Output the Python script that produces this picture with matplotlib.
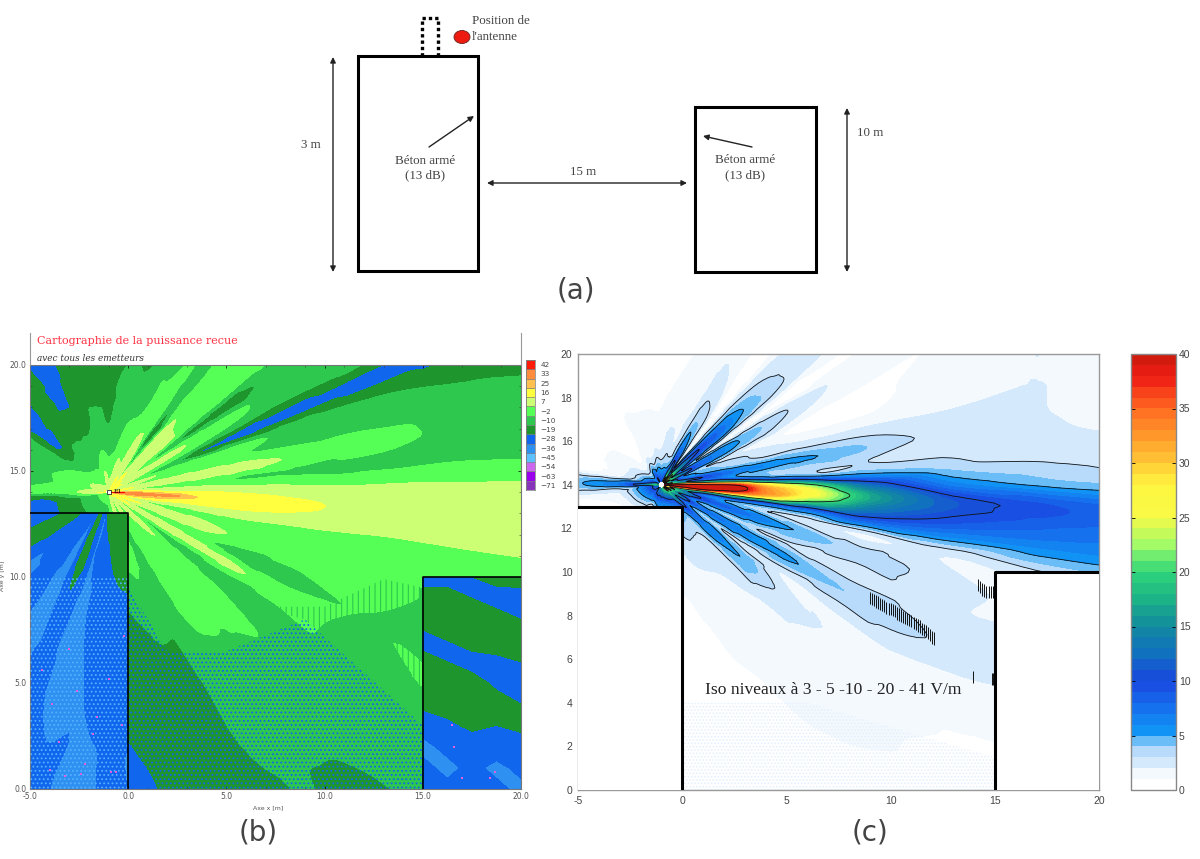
import numpy as np
import matplotlib
matplotlib.use('Agg')
import matplotlib.pyplot as plt
from matplotlib.colors import LinearSegmentedColormap
from matplotlib.patches import Rectangle, Ellipse, Polygon
from matplotlib.tri import Triangulation, UniformTriRefiner, CubicTriInterpolator

plt.rcParams['axes.unicode_minus'] = False
plt.rcParams['hatch.linewidth'] = 0.8

# antenna position, both maps are read in polar form around it
ant_x = -1.0
ant_y = 14.0

angles = [-170, -150, -130, -115, -100, -90, -80, -70, -62, -55, -48, -41, -35, -29, -24, -18, -13, -9, -6, -3,
          0, 3, 6, 10, 14, 18, 22, 26, 30, 34, 38, 42, 46, 51, 55, 60, 65, 72, 80, 90,
          100, 110, 120, 130, 141, 150, 160, 170, 176, 180, 184, 190]
radii = [0.15, 1, 2, 3.5, 5, 7, 10, 14, 19, 27]

# field strength in V/m, panel (c)
field_c = [
    [12, 6, 2, 1, 0.5, 0.5, 0, 0, 0, 0],
    [12, 5, 1, 0, 0, 0, 0, 0, 0, 0],
    [10, 4, 1, 0.5, 0, 0, 0, 0, 0, 0],
    [14, 3, 1.5, 1, 0.5, 0, 0, 0, 0, 0],
    [14, 5, 2, 1, 0.5, 0.3, 0, 0, 0, 0],
    [16, 5, 2, 1, 1, 0.5, 0.5, 0.3, 0, 0],
    [16, 5, 2, 1, 1, 0.7, 0.5, 0.5, 0.3, 0],
    [18, 6, 3, 2, 1.2, 1, 0.8, 0.6, 0.4, 0.2],
    [20, 7, 4, 2.5, 1.8, 1.3, 1, 0.8, 0.5, 0.2],
    [20, 8, 4, 2.5, 2, 1.5, 1.3, 1, 0.6, 0.2],
    [22, 9, 4, 3, 2.5, 2, 1.5, 1.2, 0.8, 0.3],
    [24, 14, 8, 6.5, 5, 3.1, 2, 1.5, 0.8, 0.3],
    [20, 8, 4, 3, 2.5, 2, 2, 1.8, 1.2, 0.4],
    [26, 14, 8, 7, 6, 5.2, 4, 3.1, 2, 0.5],
    [20, 9, 4.5, 3.5, 3, 2.8, 2.5, 2.4, 2.5, 0.5],
    [28, 16, 10, 8, 6.5, 4.8, 3.5, 2.6, 1.5, 0.5],
    [24, 12, 7, 4.5, 3.2, 2.5, 2, 2.2, 2.5, 1],
    [30, 24, 16, 14, 10, 8, 9, 7, 6, 5],
    [36, 38, 40, 34, 30, 21, 14, 10, 8, 6],
    [42, 44, 44, 43, 33, 27, 17, 11, 9, 7],
    [38, 40, 40, 38, 28, 21, 12, 6.5, 4.5, 3],
    [34, 28, 20, 14, 8, 5.5, 5, 3.8, 3, 2.2],
    [22, 12, 8, 5.5, 4, 3.3, 3, 2.8, 2.2, 1.8],
    [26, 14, 10, 7, 6, 5.2, 4, 2.5, 2, 1.5],
    [20, 8, 5.5, 4, 3.2, 3, 2.5, 2, 2, 1.5],
    [22, 8, 4.5, 3.5, 2.5, 1.5, 1, 1.5, 2, 1.5],
    [14, 6, 3.5, 2.5, 1.5, 0.7, 0.5, 1.5, 2, 1.5],
    [24, 14, 8, 5.5, 3.8, 2.2, 1.2, 1, 1.5, 1.5],
    [22, 11, 7, 5.5, 4, 2.9, 1.8, 1.2, 1, 1],
    [14, 6, 3, 1.5, 0.8, 0.5, 0.8, 0.8, 0.8, 0.5],
    [26, 13, 8, 6.5, 4.2, 3, 2, 1.5, 1, 0.8],
    [30, 16, 11, 8, 5.2, 3.2, 2.5, 2, 1.5, 1],
    [18, 10, 6, 4.5, 3.5, 2.5, 1.5, 1.2, 1, 0.8],
    [10, 3, 1, 0.5, 0.2, 0, 0, 0, 0, 0],
    [18, 8, 4.5, 3.2, 2, 1.2, 1, 0.8, 0.5, 0.5],
    [24, 12, 7, 3.8, 2.6, 1.8, 1.5, 1, 0.8, 0.5],
    [14, 6, 3.5, 2.2, 1.5, 1.2, 1, 0.8, 0.5, 0.3],
    [10, 4, 2, 1.5, 1.2, 1, 0.8, 0.5, 0.3, 0],
    [10, 4, 2.5, 1.5, 1, 0.8, 0.6, 0.3, 0, 0],
    [9, 3.5, 1.5, 1, 0.6, 0.5, 0.3, 0, 0, 0],
    [10, 4, 1.5, 1, 0.7, 0.5, 0.4, 0.3, 0, 0],
    [8, 3, 1.5, 1, 0.7, 0.5, 0.4, 0.3, 0, 0],
    [12, 3.5, 1.2, 1, 0.6, 0.6, 0.3, 0.2, 0, 0],
    [8, 2, 0.6, 0.3, 0.2, 0.1, 0, 0, 0, 0],
    [7, 2, 1, 0.7, 0.4, 0.3, 0, 0, 0, 0],
    [8, 3, 1.5, 0.8, 0.5, 0.5, 0, 0, 0, 0],
    [12, 4, 1.5, 0.8, 0.6, 0.6, 0, 0, 0, 0],
    [14, 5, 2, 1, 1, 0.8, 0, 0, 0, 0],
    [18, 9, 5.5, 4.5, 3.2, 2.5, 1.5, 0, 0, 0],
    [20, 12, 7, 5.2, 3.8, 3.1, 2, 1, 0, 0],
    [14, 6, 3.5, 3, 3, 2.4, 1, 0, 0, 0],
    [12, 6, 2, 1, 0.5, 0.5, 0, 0, 0, 0],
]

# received power in dB, panel (b)
field_b = [
    [-6, -15, -24, -32, -32, -32, -32, -32, -32, -32],
    [-6, -15, -24, -32, -32, -32, -32, -32, -32, -32],
    [-6, -15, -24, -32, -32, -32, -32, -32, -32, -32],
    [-6, -15, -24, -32, -32, -32, -32, -32, -32, -32],
    [-6, -15, -24, -32, -32, -32, -32, -32, -32, -32],
    [-10, -12, -14, -15, -17, -24, -28, -30, -30, -33],
    [-4, -6, -9, -12, -17, -23, -25, -28, -30, -32],
    [2, 0, -5, -8, -12, -18, -23, -23, -26, -28],
    [-5, -8, -12, -13, -14, -17, -19, -20, -25, -28],
    [5, 2, -5, -7, -7, -8, -14, -16, -20, -26],
    [-2, -5, -8, -7, -8, -8, -12, -15, -22, -26],
    [8, 4, 2, -3, -5, -6, -10, -14, -15, -20],
    [0, -6, -10, -13, -15, -16, -15, -13, -16, -20],
    [10, 8, 5, 3, 1, 0, -6, -12, -10, -14],
    [3, -2, -6, -7, -8, -13, -13, -10, -13, -16],
    [12, 10, 6, 4, 3, -4, -7, -8, -12, -14],
    [8, 3, -3, -6, -6, -7, -9, -8, -7, -8],
    [15, 14, 9, 4, 3, 2, -1, -3, -3, -4],
    [25, 24, 20, 12, 10, 9, 6, 3, 2, 1],
    [30, 30, 29, 26, 13, 11, 8, 4, 2, 1],
    [28, 25, 15, 9, 8, 6, 3, 3, 2, 1],
    [10, 8, 3, 0, -1, -3, -5, -7, -7, -10],
    [5, 2, -4, -5, -6, -11, -12, -12, -12, -14],
    [12, 8, 5, 4, 3, 2, -4, -7, -14, -16],
    [5, 0, -5, -6, -7, -9, -12, -13, -17, -21],
    [6, 3, -1, -3, -6, -8, -13, -18, -22, -24],
    [2, -5, -10, -16, -28, -32, -32, -32, -32, -24],
    [8, 3, -2, -5, -9, -13, -18, -15, -15, -15],
    [10, 6, 2, 0, -4, -8, -12, -14, -15, -15],
    [8, 2, -5, -14, -22, -24, -16, -15, -15, -15],
    [10, 6, 2, 0, -5, -6, -8, -12, -15, -15],
    [8, 6, 3, 2, -5, -6, -8, -12, -15, -15],
    [12, 8, 4, 1, -3, -6, -7, -12, -15, -15],
    [2, -6, -14, -28, -18, -15, -15, -15, -15, -15],
    [8, 5, 0, -5, -6, -8, -12, -15, -15, -15],
    [10, 6, 2, -3, -6, -14, -15, -15, -15, -15],
    [6, 0, -5, -8, -13, -15, -15, -18, -18, -18],
    [6, 2, -4, -10, -16, -22, -24, -24, -24, -24],
    [4, -4, -10, -13, -14, -22, -24, -24, -24, -24],
    [2, -6, -12, -20, -24, -24, -24, -24, -24, -24],
    [4, -2, -10, -16, -24, -24, -24, -24, -24, -24],
    [-2, -8, -14, -22, -24, -24, -24, -24, -24, -24],
    [0, -8, -16, -22, -30, -32, -32, -30, -24, -24],
    [0, -8, -14, -22, -24, -24, -24, -24, -24, -24],
    [2, -6, -16, -30, -34, -36, -32, -32, -32, -32],
    [4, -4, -10, -14, -15, -16, -18, -18, -18, -18],
    [8, -2, -8, -12, -15, -18, -18, -18, -18, -18],
    [6, -4, -6, -14, -24, -20, -20, -20, -20, -20],
    [4, 0, -6, -8, -6, -8, -8, -8, -8, -8],
    [12, 2, -5, -8, -6, -6, -6, -6, -6, -6],
    [4, -2, -14, -26, -15, -15, -15, -15, -15, -15],
    [-6, -15, -24, -32, -32, -32, -32, -32, -32, -32],
]

# inside the left building, panel (b)
lb_angles = [-175, -160, -150, -140, -130, -120, -113, -105, -97, -90, -83, -75, -60, -45]
lb_radii = [1, 3, 6, 10, 14, 20]
lb_field = [
    [-32, -32, -32, -32, -32, -32],
    [-32, -30, -32, -38, -38, -38],
    [-24, -24, -26, -32, -32, -32],
    [-32, -34, -38, -40, -38, -32],
    [-32, -32, -32, -32, -36, -40],
    [-36, -38, -40, -38, -32, -34],
    [-24, -24, -30, -32, -38, -40],
    [-32, -36, -40, -40, -34, -36],
    [-36, -32, -32, -36, -40, -38],
    [-24, -30, -36, -32, -34, -38],
    [-24, -24, -32, -34, -38, -32],
    [-24, -24, -30, -32, -34, -34],
    [-24, -24, -24, -32, -32, -32],
    [-24, -24, -24, -32, -32, -32],
]

# inside the right building, panel (b)
rb_x = [15, 16.25, 17.5, 18.75, 20]
rb_y = [0, 1, 2, 3, 4, 5, 6, 7, 8, 9, 10]
rb_field = [
    [-36, -34, -36, -34, -38],
    [-34, -38, -34, -38, -34],
    [-38, -34, -33, -32, -32],
    [-33, -30, -26, -28, -26],
    [-26, -24, -24, -24, -28],
    [-24, -24, -24, -30, -32],
    [-24, -28, -32, -30, -28],
    [-32, -28, -24, -24, -24],
    [-24, -24, -24, -24, -28],
    [-24, -24, -28, -32, -32],
    [-32, -32, -28, -25, -24],
]

# legend of panel (b), bottom to top
leg_labels = ['\u221271', '\u221263', '\u221254', '\u221245', '\u221236', '\u221228', '\u221219', '\u221210',
              '\u22122', '7', '16', '25', '33', '42']
leg_levels = [-80, -71, -63, -54, -45, -36, -28, -19, -10, -2, 7, 16, 25, 33, 42]
leg_colors = ['#8833bb', '#9900ee', '#cc66ee', '#5cc0ff', '#2e90f0', '#1166ee', '#1e962d', '#2dc84d',
              '#55ff55', '#ccff73', '#ffff40', '#ffc050', '#ff8c3c', '#ff1a0a']

# the small pink cells in panel (b)
pink_x = [-4.4, -3.9, -3.5, -3.0, -2.6, -2.2, -1.6, -1.0, -0.6, -0.2, -4.0, -3.2, -2.4, -1.8, -0.9, -0.3, 16.6, 17.0, 18.4, 18.7, 16.5]
pink_y = [5.6, 4.0, 2.2, 6.6, 4.6, 1.2, 3.4, 5.2, 0.8, 7.2, 0.9, 0.6, 0.7, 2.6, 0.8, 3.0, 2.0, 0.5, 0.5, 0.8, 3.0]

# jagged pieces of the 3 V/m line, panel (c)
speck_x = [9.0, 9.1, 9.2, 9.3, 9.4, 9.5, 9.6, 9.7, 9.8, 9.9, 10.0, 10.1, 10.2, 10.3, 10.4, 10.5, 10.6, 10.7, 10.8,
           10.9, 11.0, 11.1, 11.2, 11.3, 11.4, 11.5, 11.6, 11.7, 11.8, 11.9, 12.0, 12.1,
           14.2, 14.3, 14.4, 14.5, 14.6, 14.7, 14.8, 14.9, 13.95, 14.85, 14.9]
speck_y = [8.8, 8.75, 8.7, 8.65, 8.6, 8.55, 8.5, 8.45, 8.35, 8.3, 8.3, 8.25, 8.2, 8.1, 8.05, 8.0, 7.95, 7.9, 7.85,
           7.8, 7.75, 7.65, 7.6, 7.55, 7.5, 7.4, 7.35, 7.3, 7.2, 7.1, 7.0, 6.95,
           9.4, 9.3, 9.2, 9.15, 9.1, 9.1, 9.1, 9.1, 5.2, 5.1, 5.1]

WIDTH = 1200
HEIGHT = 859
fig = plt.figure(figsize=(12, 8.59), dpi=100, facecolor='white')


def axes_px(left, top, right, bottom):
    return fig.add_axes([left / WIDTH, 1 - bottom / HEIGHT, (right - left) / WIDTH, (bottom - top) / HEIGHT])


def polar_tri(r_list, a_list, table):
    # refine on the table's own row and column numbers, the cells are even there
    ii, jj = np.meshgrid(np.arange(len(r_list), dtype=float), np.arange(len(a_list), dtype=float))
    tri = Triangulation(ii.ravel(), jj.ravel())
    z0 = np.array(table, dtype=float).ravel()
    fine, z = UniformTriRefiner(tri).refine_field(z0, CubicTriInterpolator(tri, z0, kind='geom'), subdiv=3)
    r_fine = np.interp(fine.x, np.arange(len(r_list)), r_list)
    a_fine = np.radians(np.interp(fine.y, np.arange(len(a_list)), a_list))
    return Triangulation(ant_x + r_fine * np.cos(a_fine), ant_y + r_fine * np.sin(a_fine), fine.triangles), z


# panel (b)
ax_b = axes_px(30, 365, 521, 789)
tri_b, z_b = polar_tri(radii, angles, field_b)
ax_b.tricontourf(tri_b, np.clip(z_b, -79, 41), levels=leg_levels, colors=leg_colors)

tri_lb, z_lb = polar_tri(lb_radii, lb_angles, lb_field)
cs = ax_b.tricontourf(tri_lb, np.clip(z_lb, -79, 41), levels=leg_levels, colors=leg_colors, zorder=2)
cs.set_clip_path(Rectangle((-5, 0), 5, 13, transform=ax_b.transData))
ax_b.contourf(rb_x, rb_y, np.array(rb_field), levels=leg_levels, colors=leg_colors, zorder=2)

# speckle of the original grid
ax_b.add_patch(Rectangle((-5, 0), 5, 10, facecolor='none', edgecolor='#55b0ff', hatch='....', lw=0, zorder=3))
ax_b.add_patch(Polygon([(0, 9.5), (2, 6.5), (5, 6.5), (9, 8), (15, 3), (15, 0), (0, 0)], facecolor='none',
                       edgecolor='#1166ee', hatch='....', lw=0, zorder=3))
ax_b.add_patch(Polygon([(6.5, 8.6), (9, 8), (15, 3), (15, 9.5), (13, 9.9), (10, 8.6)], facecolor='none',
                       edgecolor='#2dc84d', hatch='|||', lw=0, zorder=3))
ax_b.scatter(pink_x, pink_y, s=2.5, color='#e060e0', marker='s', linewidths=0, zorder=4)

ax_b.plot([-5, 0, 0], [13, 13, 0], color='black', lw=1.2, zorder=5)
ax_b.plot([15, 15, 20], [0, 10, 10], color='black', lw=1.2, zorder=5)
ax_b.plot([-1, -0.2], [14, 14], color='red', lw=0.8, zorder=6)
ax_b.plot([-1], [14], marker='s', ms=3, mfc='white', mec='black', mew=0.5, zorder=7)
ax_b.text(-0.75, 14.03, 'E1', fontsize=4.5, color='black', va='center', zorder=7, family='DejaVu Serif')

ax_b.set_xlim(-5, 20)
ax_b.set_ylim(0, 20)
ax_b.set_xticks([-5, 0, 5, 10, 15, 20])
ax_b.set_xticklabels(['-5.0', '0.0', '5.0', '10.0', '15.0', '20.0'])
ax_b.set_yticks([0, 5, 10, 15, 20])
ax_b.set_yticklabels(['0.0', '5.0', '10.0', '15.0', '20.0'])
ax_b.set_xticks(np.arange(-5, 21, 2), minor=True)
ax_b.set_yticks(np.arange(0, 21, 1), minor=True)
ax_b.tick_params(which='major', labelsize=5.5, labelcolor='#555555', length=2, width=0.5, direction='in', top=True, right=True, pad=2.5)
ax_b.tick_params(which='minor', length=1.5, width=0.4, direction='in', top=True, right=True, color='#333333')
for s in ax_b.spines.values():
    s.set_color('#777777')
    s.set_linewidth(0.8)
fig.text(268 / WIDTH, 1 - 808 / HEIGHT, 'Axe x [m]', fontsize=4.5, color='#555555', ha='center', va='center')
fig.text(3 / WIDTH, 1 - 576 / HEIGHT, 'Axe y [m]', fontsize=4.5, color='#555555', rotation=90, ha='center', va='center')
fig.text(37 / WIDTH, 1 - 341 / HEIGHT, 'Cartographie de la puissance recue', fontsize=8, color='#ff3344',
         family='DejaVu Serif', ha='left', va='center')
fig.text(37 / WIDTH, 1 - 358 / HEIGHT, 'avec tous les emetteurs', fontsize=6.4, color='#333333', style='italic',
         family='DejaVu Serif', ha='left', va='center')

# legend (b)
ax_leg = axes_px(526, 360, 535, 490)
ax_leg.barh(range(len(leg_colors)), 1, height=1, color=leg_colors, edgecolor='#777777', lw=0.4)
ax_leg.set_xlim(0, 1)
ax_leg.set_ylim(-0.5, len(leg_colors) - 0.5)
ax_leg.set_xticks([])
ax_leg.yaxis.tick_right()
ax_leg.set_yticks(range(len(leg_labels)))
ax_leg.set_yticklabels(leg_labels)
ax_leg.tick_params(axis='y', length=0, labelsize=5.2, labelcolor='#444444', pad=4)
for s in ax_leg.spines.values():
    s.set_color('#777777')
    s.set_linewidth(0.5)

# panel (c)
jet_like = LinearSegmentedColormap.from_list('field', [
    (0.0, '#ffffff'), (0.025, '#ffffff'), (0.05, '#e4f0fd'), (0.075, '#c6e2fb'), (0.1, '#a6d3fa'),
    (0.125, '#0f9bf5'), (0.19, '#1670ee'), (0.25, '#1a46e0'), (0.31, '#106fc0'), (0.375, '#128a9e'),
    (0.44, '#1cb387'), (0.5, '#2ed67a'), (0.56, '#9cfb6a'), (0.625, '#f7fa48'), (0.7, '#fff740'),
    (0.75, '#ffc935'), (0.875, '#ff6a20'), (0.95, '#ef1c15'), (1.0, '#c81b0c')])
ax_c = axes_px(578, 354, 1099, 790)
tri_c, z_c = polar_tri(radii, angles, field_c)
cf = ax_c.tricontourf(tri_c, np.clip(z_c, 0.01, 39.9), levels=np.arange(0, 41), cmap=jet_like)
ax_c.tricontour(tri_c, z_c, levels=[3, 5, 10, 20, 39], colors='#111111', linewidths=0.6)
ax_c.vlines(speck_x, np.array(speck_y) - 0.28, np.array(speck_y) + 0.28, color='#111111', lw=0.7)
ax_c.add_patch(Polygon([(0, 4), (6, 4), (15, 1.5), (15, 0), (0, 0)], facecolor='none', edgecolor='#e4f0fd',
                       hatch='.....', lw=0, zorder=1.5))
ax_c.add_patch(Rectangle((-5, 0), 5, 13, facecolor='white', edgecolor='none', zorder=3))
ax_c.add_patch(Rectangle((15, 0), 5, 10, facecolor='white', edgecolor='none', zorder=3))
ax_c.plot([-5, 0, 0], [13, 13, 0], color='black', lw=2.2, zorder=5)
ax_c.plot([15, 15, 20], [0, 10, 10], color='black', lw=2.2, zorder=5)
ax_c.text(1.1, 4.6, 'Iso niveaux \u00e0 3 - 5 -10 - 20 - 41 V/m', fontsize=12.6, family='Liberation Serif',
          color='#222222', ha='left', va='center', zorder=6)
ax_c.set_xlim(-5, 20)
ax_c.set_ylim(0, 20)
ax_c.set_xticks([-5, 0, 5, 10, 15, 20])
ax_c.set_yticks(np.arange(0, 21, 2))
ax_c.tick_params(labelsize=7.5, labelcolor='#444444', length=0, pad=4, labelfontfamily='Liberation Sans')
for s in ax_c.spines.values():
    s.set_color('#999999')
    s.set_linewidth(1)

cax = axes_px(1131, 354, 1176, 790)
cb = fig.colorbar(cf, cax=cax, ticks=np.arange(0, 41, 5))
cb.ax.tick_params(labelsize=7.5, labelcolor='#444444', length=3, width=0.6, direction='in', left=True, right=True, pad=2, labelfontfamily='Liberation Sans')
cb.outline.set_edgecolor('#888888')
cb.outline.set_linewidth(1)

# panel (a), drawn in pixel units on a sheet over the whole figure
sheet = fig.add_axes([0, 0, 1, 1], facecolor='none')
sheet.set_xlim(0, WIDTH)
sheet.set_ylim(HEIGHT, 0)
sheet.axis('off')
sheet.add_patch(Rectangle((358, 56), 120, 215, fill=False, edgecolor='black', lw=2.2))
sheet.add_patch(Rectangle((695, 107), 121, 165, fill=False, edgecolor='black', lw=2.2))
sheet.plot([422, 422, 438, 438], [56, 18, 18, 56], color='black', lw=2.4, ls=(0, (1, 0.9)), dash_capstyle='butt')
sheet.add_patch(Ellipse((462, 37), 16, 13, facecolor='#ee1c10', edgecolor='#662222', lw=0.6))

# the frame lines that run up past the title in (b)
sheet.plot([30, 30], [333, 365], color='#999999', lw=0.8)
sheet.plot([521, 521], [333, 365], color='#999999', lw=0.8)


def arrow(x0, y0, x1, y1, both=False):
    style = '<|-|>' if both else '-|>'
    sheet.annotate('', xy=(x1, y1), xytext=(x0, y0),
                   arrowprops=dict(arrowstyle=style, color='#222222', lw=1, mutation_scale=8, shrinkA=0, shrinkB=0))


arrow(333, 57, 333, 272, both=True)
arrow(847, 108, 847, 272, both=True)
arrow(487, 183, 687, 183, both=True)
arrow(429, 147, 474, 116)
arrow(752, 147, 703, 136)

serif = dict(family='Liberation Serif', fontsize=9.4, color='#444444', va='center')
sheet.text(472, 21, 'Position de', ha='left', **serif)
sheet.text(472, 37, "l'antenne", ha='left', **serif)
sheet.text(311, 145, '3 m', ha='center', **serif)
sheet.text(425, 161, 'B\u00e9ton arm\u00e9', ha='center', **serif)
sheet.text(425, 175, '(13 dB)', ha='center', **serif)
sheet.text(745, 160, 'B\u00e9ton arm\u00e9', ha='center', **serif)
sheet.text(745, 175, '(13 dB)', ha='center', **serif)
sheet.text(583, 172, '15 m', ha='center', **serif)
sheet.text(870, 133, '10 m', ha='center', **serif)

for label, lx, ly in [('(a)', 576, 291), ('(b)', 258, 832), ('(c)', 870, 832)]:
    sheet.text(lx, ly, label, fontsize=20, color='#444444', ha='center', va='center')

plt.savefig('out.png', dpi=100)
